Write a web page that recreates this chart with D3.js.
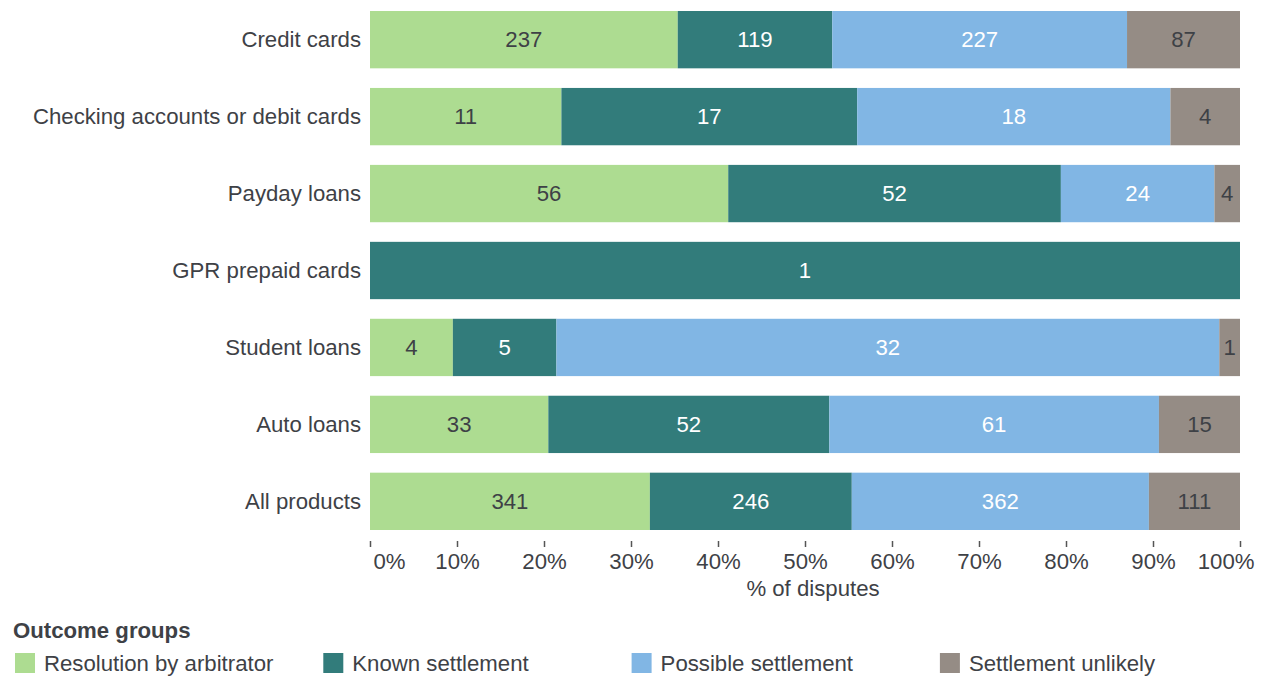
<!DOCTYPE html>
<html><head><meta charset="utf-8">
<script src="https://cdn.jsdelivr.net/npm/d3@7"></script>
<style>
body{margin:0;background:#fff;}
text{font-family:"Liberation Sans",Arial,sans-serif;}
</style></head>
<body><svg id="c" width="1265" height="677"></svg>
<script>
const categories = ["Credit cards","Checking accounts or debit cards","Payday loans","GPR prepaid cards","Student loans","Auto loans","All products"];
const seriesNames = ["Resolution by arbitrator","Known settlement","Possible settlement","Settlement unlikely"];
const arbitrator = [237,11,56,0,4,33,341];
const known = [119,17,52,1,5,52,246];
const possible = [227,18,24,0,32,61,362];
const unlikely = [87,4,4,0,1,15,111];
const tickValues = [0,0.1,0.2,0.3,0.4,0.5,0.6,0.7,0.8,0.9,1];
const colors = ["#addc91","#327c7b","#81b6e4","#958c85"];
const labelColors = ["#3e4146","#ffffff","#ffffff","#3e4146"];
const textColor = "#3e4146";
const FS = 22.2;

const svg = d3.select("#c");
const series = [arbitrator, known, possible, unlikely];
const rows = categories.map((c,i)=>{
  const o={cat:c}; seriesNames.forEach((s,j)=>o[s]=series[j][i]); return o;
});
const stack = d3.stack().keys(seriesNames).offset(d3.stackOffsetExpand);
const stacked = stack(rows);

const x = d3.scaleLinear().domain([0,1]).range([370,1240]);
const y = d3.scaleBand().domain(categories).range([1,540]).paddingInner(0.255).paddingOuter(0.13);

stacked.forEach((layer,j)=>{
  const g = svg.append("g");
  layer.forEach((d,i)=>{
    const v = series[j][i];
    if(!v) return;
    g.append("rect").attr("x",x(d[0])).attr("y",y(categories[i]))
      .attr("width",x(d[1])-x(d[0])).attr("height",y.bandwidth()).attr("fill",colors[j]);
    g.append("text").attr("x",(x(d[0])+x(d[1]))/2).attr("y",y(categories[i])+y.bandwidth()/2)
      .attr("dy","0.35em").attr("text-anchor","middle").attr("font-size",FS)
      .attr("fill",labelColors[j]).text(v);
  });
});

// category labels
svg.append("g").selectAll("text").data(categories).join("text")
  .attr("x",361).attr("y",d=>y(d)+y.bandwidth()/2).attr("dy","0.35em")
  .attr("text-anchor","end").attr("font-size",FS).attr("fill",textColor).text(d=>d);

// x axis
const axis = d3.axisBottom(x).tickValues(tickValues).tickSize(6).tickFormat(d3.format(".0%"));
const ag = svg.append("g").attr("transform","translate(0,541)").call(axis);
ag.select(".domain").remove();
ag.selectAll(".tick line").attr("stroke","#555").attr("stroke-width",1.5);
ag.selectAll(".tick text").attr("font-size",FS).attr("fill",textColor).attr("y",12)
  .attr("font-family","Liberation Sans, Arial, sans-serif")
  .each(function(d){
    if(d===0){ d3.select(this).attr("text-anchor","start").attr("x",3); }
    if(d===1){ d3.select(this).attr("text-anchor","end").attr("x",14); }
  });
svg.append("text").attr("x",813).attr("y",596).attr("text-anchor","middle")
  .attr("font-size",FS).attr("fill",textColor).text("% of disputes");

// legend
svg.append("text").attr("x",13).attr("y",638).attr("font-size",FS).attr("font-weight","bold")
  .attr("fill",textColor).text("Outcome groups");
const lg = svg.append("g").selectAll("g").data(seriesNames).join("g")
  .attr("transform",(d,i)=>`translate(${15+i*308.3},653)`);
lg.append("rect").attr("width",20).attr("height",20).attr("fill",(d,i)=>colors[i]);
lg.append("text").attr("x",29).attr("y",10).attr("dy","0.35em").attr("font-size",FS)
  .attr("fill",textColor).text(d=>d);
</script></body></html>
